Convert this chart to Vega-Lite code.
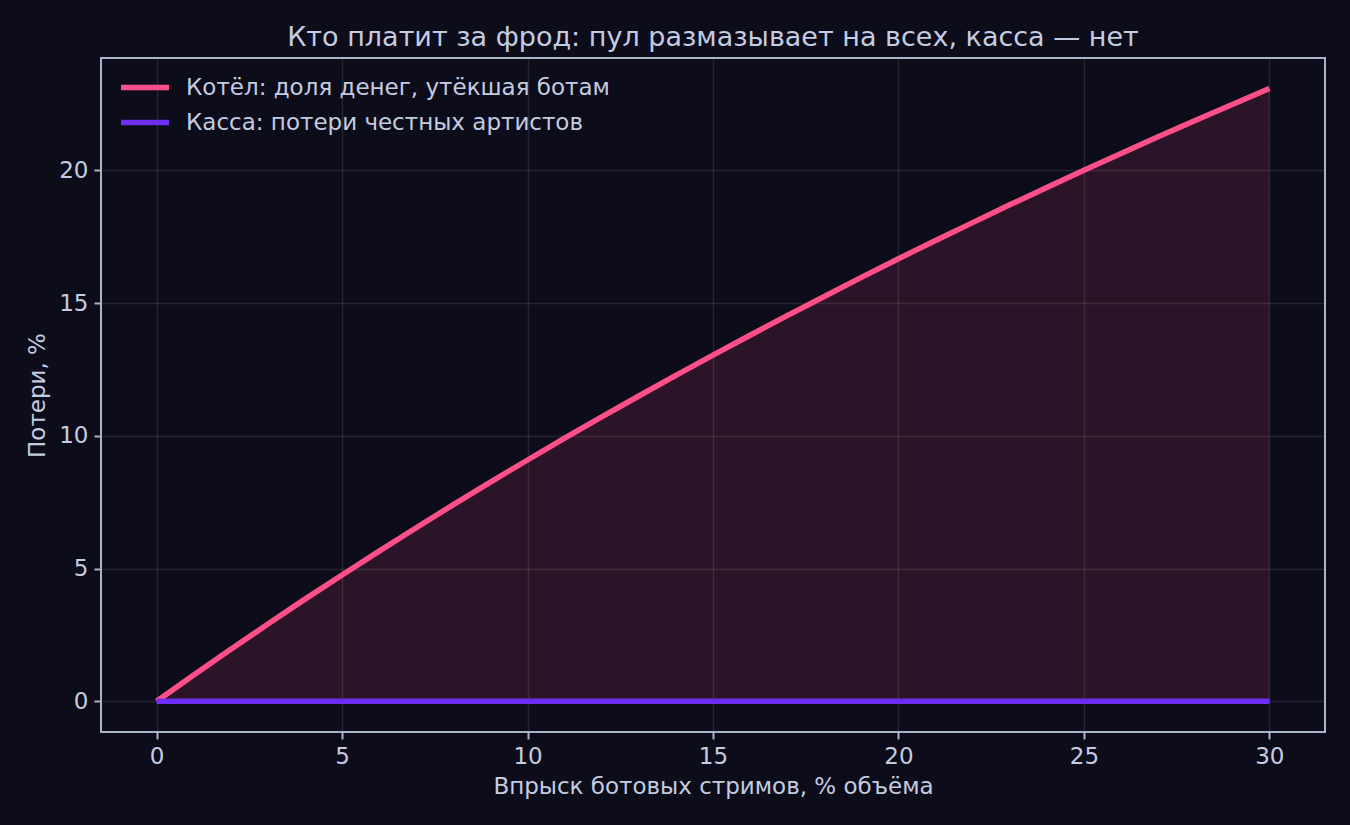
{
  "$schema": "https://vega.github.io/schema/vega-lite/v6.json",
  "width": 1224,
  "height": 674,
  "autosize": {"type": "none"},
  "padding": {"left": 101, "top": 58, "right": 25, "bottom": 93},
  "background": "#0d0c1a",
  "title": {
    "text": "Кто платит за фрод: пул размазывает на всех, касса — нет",
    "font": "DejaVu Sans",
    "fontSize": 27,
    "fontWeight": "normal",
    "color": "#c3cce0",
    "anchor": "middle",
    "offset": 6
  },
  "datasets": {
    "wide": [
      {"x": 0, "pool": 0.0, "kassa": 0},
      {"x": 1, "pool": 0.99, "kassa": 0},
      {"x": 2, "pool": 1.96, "kassa": 0},
      {"x": 3, "pool": 2.91, "kassa": 0},
      {"x": 4, "pool": 3.85, "kassa": 0},
      {"x": 5, "pool": 4.76, "kassa": 0},
      {"x": 6, "pool": 5.66, "kassa": 0},
      {"x": 7, "pool": 6.54, "kassa": 0},
      {"x": 8, "pool": 7.41, "kassa": 0},
      {"x": 9, "pool": 8.26, "kassa": 0},
      {"x": 10, "pool": 9.09, "kassa": 0},
      {"x": 11, "pool": 9.91, "kassa": 0},
      {"x": 12, "pool": 10.71, "kassa": 0},
      {"x": 13, "pool": 11.5, "kassa": 0},
      {"x": 14, "pool": 12.28, "kassa": 0},
      {"x": 15, "pool": 13.04, "kassa": 0},
      {"x": 16, "pool": 13.79, "kassa": 0},
      {"x": 17, "pool": 14.53, "kassa": 0},
      {"x": 18, "pool": 15.25, "kassa": 0},
      {"x": 19, "pool": 15.97, "kassa": 0},
      {"x": 20, "pool": 16.67, "kassa": 0},
      {"x": 21, "pool": 17.36, "kassa": 0},
      {"x": 22, "pool": 18.03, "kassa": 0},
      {"x": 23, "pool": 18.7, "kassa": 0},
      {"x": 24, "pool": 19.35, "kassa": 0},
      {"x": 25, "pool": 20.0, "kassa": 0},
      {"x": 26, "pool": 20.63, "kassa": 0},
      {"x": 27, "pool": 21.26, "kassa": 0},
      {"x": 28, "pool": 21.88, "kassa": 0},
      {"x": 29, "pool": 22.48, "kassa": 0},
      {"x": 30, "pool": 23.08, "kassa": 0}
    ]
  },
  "data": {"name": "wide"},
  "encoding": {
    "x": {
      "field": "x",
      "type": "quantitative",
      "scale": {"domain": [-1.5, 31.5], "nice": false, "zero": false},
      "axis": {
        "title": "Впрыск ботовых стримов, % объёма",
        "values": [0, 5, 10, 15, 20, 25, 30],
        "format": "d"
      }
    }
  },
  "layer": [
    {
      "mark": {"type": "area", "color": "#ff4f8b", "opacity": 0.13},
      "encoding": {
        "y": {"field": "pool", "type": "quantitative"},
        "y2": {"field": "kassa"}
      }
    },
    {
      "transform": [{"fold": ["pool", "kassa"], "as": ["key", "val"]}],
      "mark": {"type": "line", "strokeWidth": 5.5, "strokeCap": "butt"},
      "encoding": {
        "y": {
          "field": "val",
          "type": "quantitative",
          "scale": {"domain": [-1.154, 24.23], "nice": false, "zero": false},
          "axis": {
            "title": "Потери, %",
            "values": [0, 5, 10, 15, 20],
            "format": "d"
          }
        },
        "color": {
          "field": "key",
          "type": "nominal",
          "scale": {
            "domain": ["pool", "kassa"],
            "range": ["#ff4f8b", "#6c2ef2"]
          },
          "legend": {
            "orient": "none",
            "legendX": 17,
            "legendY": 12,
            "title": null,
            "symbolType": "stroke",
            "symbolSize": 2304,
            "symbolStrokeWidth": 5.5,
            "clipHeight": 35,
            "labelExpr": "datum.value == 'pool' ? 'Котёл: доля денег, утёкшая ботам' : 'Касса: потери честных артистов'",
            "labelFont": "DejaVu Sans",
            "labelFontSize": 23,
            "labelColor": "#c3cce0",
            "labelLimit": 0,
            "rowPadding": 0,
            "labelOffset": 14
          }
        }
      }
    }
  ],
  "config": {
    "view": {"stroke": "#aab4c8", "strokeWidth": 2},
    "axis": {
      "domain": false,
      "grid": true,
      "gridColor": "#ffffff",
      "gridOpacity": 0.1,
      "gridWidth": 1.5,
      "ticks": true,
      "tickColor": "#aab4c8",
      "tickSize": 7,
      "tickWidth": 2,
      "labelFont": "DejaVu Sans",
      "labelFontSize": 23,
      "labelColor": "#c3cce0",
      "labelPadding": 6,
      "titleFont": "DejaVu Sans",
      "titleFontSize": 23,
      "titleFontWeight": "normal",
      "titleColor": "#c3cce0",
      "zindex": 1
    },
    "axisX": {"titlePadding": 7},
    "axisY": {"titlePadding": 9}
  }
}
